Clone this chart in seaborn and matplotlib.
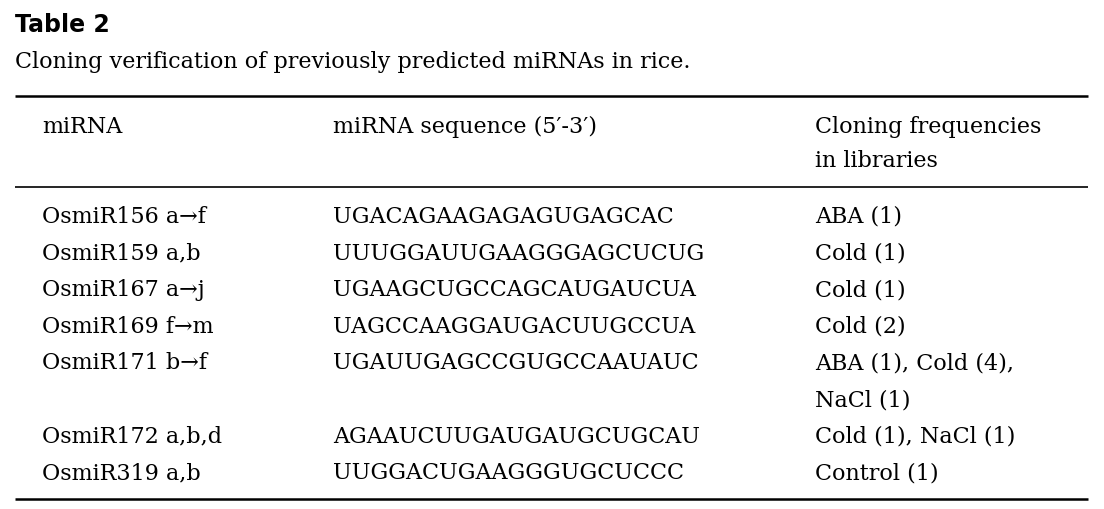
import matplotlib.pyplot as plt
import seaborn as sns

sns.set_theme(style="white")
plt.rcParams["font.family"] = ["DejaVu Serif"]
plt.rcParams["text.color"] = "black"

title = "Table 2"
caption = "Cloning verification of previously predicted miRNAs in rice."
headers = ["miRNA", "miRNA sequence (5\u2032-3\u2032)", "Cloning frequencies\nin libraries"]
mirnas = ["OsmiR156 a\u2192f", "OsmiR159 a,b", "OsmiR167 a\u2192j", "OsmiR169 f\u2192m",
          "OsmiR171 b\u2192f", "OsmiR172 a,b,d", "OsmiR319 a,b"]
sequences = ["UGACAGAAGAGAGUGAGCAC", "UUUGGAUUGAAGGGAGCUCUG", "UGAAGCUGCCAGCAUGAUCUA",
             "UAGCCAAGGAUGACUUGCCUA", "UGAUUGAGCCGUGCCAAUAUC", "AGAAUCUUGAUGAUGCUGCAU",
             "UUGGACUGAAGGGUGCUCCC"]
frequencies = ["ABA (1)", "Cold (1)", "Cold (1)", "Cold (2)",
               "ABA (1), Cold (4),\nNaCl (1)", "Cold (1), NaCl (1)", "Control (1)"]

fig = plt.figure(figsize=(11.04, 5.10), dpi=100)
ax = fig.add_axes([0, 0, 1, 1])
ax.set_xlim(0, 1104)
ax.set_ylim(510, 0)
ax.axis("off")

fs = 16
ax.text(15, 25, title, fontsize=17, fontweight="bold", family="DejaVu Sans", va="center")
ax.text(15, 62, caption, fontsize=fs, va="center")

ax.hlines(97, 15, 1088, color="black", lw=1.8)
ax.hlines(188, 15, 1088, color="black", lw=1.2)
ax.hlines(500, 15, 1088, color="black", lw=1.8)

cols = [42, 333, 815]
step = 36.6
for x, h in zip(cols, headers):
    for i, ln in enumerate(h.split("\n")):
        ax.text(x, 127 + i * 34, ln, fontsize=fs, va="center")

y = 217
for m, s, f in zip(mirnas, sequences, frequencies):
    ax.text(cols[0], y, m, fontsize=fs, va="center")
    ax.text(cols[1], y, s, fontsize=fs, va="center")
    lines = f.split("\n")
    for i, ln in enumerate(lines):
        ax.text(cols[2], y + i * step, ln, fontsize=fs, va="center")
    y += step * len(lines)

fig.savefig("out.png", dpi=100)
